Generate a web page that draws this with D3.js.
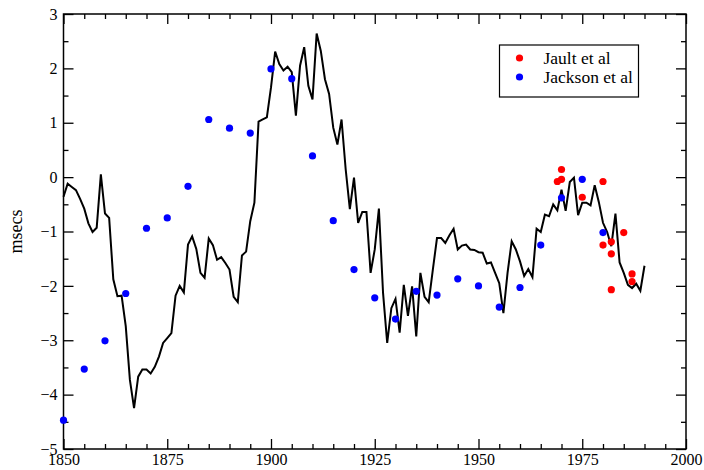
<!DOCTYPE html>
<html>
<head>
<meta charset="utf-8">
<script src="https://cdn.jsdelivr.net/npm/d3@7"></script>
<style>
  body { margin: 0; background: #fff; }
  text { font-family: "Liberation Serif", "DejaVu Serif", serif; }
</style>
</head>
<body>
<div id="chart-area"></div>
<script>
// length-of-day series, one value per year
let lodYears = [
  1850, 1851, 1852, 1853, 1854, 1855, 1856, 1857, 1858, 1859,
  1860, 1861, 1862, 1863, 1864, 1865, 1866, 1867, 1868, 1869,
  1870, 1871, 1872, 1873, 1874, 1875, 1876, 1877, 1878, 1879,
  1880, 1881, 1882, 1883, 1884, 1885, 1886, 1887, 1888, 1889,
  1890, 1891, 1892, 1893, 1894, 1895, 1896, 1897, 1898, 1899,
  1900, 1901, 1902, 1903, 1904, 1905, 1906, 1907, 1908, 1909,
  1910, 1911, 1912, 1913, 1914, 1915, 1916, 1917, 1918, 1919,
  1920, 1921, 1922, 1923, 1924, 1925, 1926, 1927, 1928, 1929,
  1930, 1931, 1932, 1933, 1934, 1935, 1936, 1937, 1938, 1939,
  1940, 1941, 1942, 1943, 1944, 1945, 1946, 1947, 1948, 1949,
  1950, 1951, 1952, 1953, 1954, 1955, 1956, 1957, 1958, 1959,
  1960, 1961, 1962, 1963, 1964, 1965, 1966, 1967, 1968, 1969,
  1970, 1971, 1972, 1973, 1974, 1975, 1976, 1977, 1978, 1979,
  1980, 1981, 1982, 1983, 1984, 1985, 1986, 1987, 1988, 1989,
  1990
];
let lodValues = [
  -0.36, -0.12, -0.18, -0.24, -0.40, -0.58, -0.85, -1.01, -0.93, 0.05,
  -0.67, -0.75, -1.88, -2.19, -2.18, -2.74, -3.73, -4.25, -3.67, -3.54,
  -3.54, -3.61, -3.49, -3.30, -3.05, -2.96, -2.87, -2.18, -2.00, -2.12,
  -1.24, -1.09, -1.32, -1.76, -1.85, -1.13, -1.25, -1.52, -1.47, -1.58,
  -1.70, -2.20, -2.30, -1.44, -1.37, -0.81, -0.47, 1.02, 1.06, 1.10,
  1.65, 2.31, 2.08, 1.96, 2.03, 1.93, 1.13, 2.05, 2.39, 1.68,
  1.43, 2.64, 2.32, 1.80, 1.53, 0.91, 0.60, 1.06, 0.14, -0.59,
  -0.01, -0.84, -0.64, -0.64, -1.76, -1.33, -0.58, -2.13, -3.05, -2.41,
  -2.24, -2.86, -1.98, -2.55, -2.01, -2.93, -1.76, -2.20, -2.30, -1.70,
  -1.12, -1.12, -1.21, -1.07, -0.95, -1.33, -1.26, -1.24, -1.33, -1.34,
  -1.38, -1.39, -1.59, -1.57, -1.76, -1.95, -2.50, -1.76, -1.18, -1.33,
  -1.55, -1.82, -1.69, -1.84, -0.95, -1.01, -0.69, -0.72, -0.50, -0.61,
  -0.23, -0.62, -0.09, -0.01, -0.70, -0.47, -0.47, -0.52, -0.15, -0.46,
  -0.84, -1.01, -1.27, -0.67, -1.57, -1.76, -1.98, -2.04, -1.96, -2.09,
  -1.63
];

let jacksonYears = [1850, 1855, 1860, 1865, 1870, 1875, 1880, 1885, 1890, 1895,
  1900, 1905, 1910, 1915, 1920, 1925, 1930, 1935, 1940, 1945,
  1950, 1955, 1960, 1965, 1970, 1975, 1980];
let jacksonValues = [-4.47, -3.53, -3.01, -2.14, -0.94, -0.75, -0.17, 1.06, 0.90, 0.81,
  1.99, 1.81, 0.39, -0.80, -1.70, -2.22, -2.61, -2.10, -2.17, -1.87,
  -2.00, -2.39, -2.03, -1.25, -0.38, -0.04, -1.02];

let jaultYears = [1969, 1970, 1970, 1975, 1980, 1980, 1982, 1982, 1982, 1985, 1987, 1987];
let jaultValues = [-0.08, -0.04, 0.14, -0.37, -0.08, -1.25, -1.19, -1.41, -2.07, -1.02, -1.78, -1.92];

let xMajor = [1850, 1875, 1900, 1925, 1950, 1975, 2000];
let yMajor = [-5, -4, -3, -2, -1, 0, 1, 2, 3];

let width = 704, height = 470;
let margin = {left: 63.5, right: 18, top: 14, bottom: 21};
let serif = "'Liberation Serif', 'DejaVu Serif', serif";

let svg = d3.select("#chart-area").append("svg").attr("width", width).attr("height", height);

let x = d3.scaleLinear().domain([1850, 2000]).range([margin.left, width - margin.right]);
let y = d3.scaleLinear().domain([-5, 3]).range([height - margin.bottom, margin.top]);

let xMinor = d3.range(1850, 2001, 5).filter(d => xMajor.indexOf(d) < 0);
let yMinor = d3.range(-5, 3.01, 0.5).filter(d => yMajor.indexOf(d) < 0);

function styleAxis(g) {
  g.attr("font-family", serif);
  g.select(".domain").remove();
  g.selectAll("line").attr("stroke", "#000").attr("stroke-width", 1.3);
  g.selectAll("text").attr("font-size", 16).attr("fill", "#000");
}

// bottom
svg.append("g").attr("transform", `translate(0,${y(-5)})`)
  .call(d3.axisBottom(x).tickValues(xMajor).tickFormat(d3.format("d")).tickSize(-10).tickPadding(5))
  .call(styleAxis);
svg.append("g").attr("transform", `translate(0,${y(-5)})`)
  .call(d3.axisBottom(x).tickValues(xMinor).tickFormat("").tickSize(-5))
  .call(styleAxis);
// top
svg.append("g").attr("transform", `translate(0,${y(3)})`)
  .call(d3.axisTop(x).tickValues(xMajor).tickFormat("").tickSize(-10))
  .call(styleAxis);
svg.append("g").attr("transform", `translate(0,${y(3)})`)
  .call(d3.axisTop(x).tickValues(xMinor).tickFormat("").tickSize(-5))
  .call(styleAxis);
// left
svg.append("g").attr("transform", `translate(${x(1850)},0)`)
  .call(d3.axisLeft(y).tickValues(yMajor).tickSize(-10).tickPadding(6))
  .call(styleAxis);
svg.append("g").attr("transform", `translate(${x(1850)},0)`)
  .call(d3.axisLeft(y).tickValues(yMinor).tickFormat("").tickSize(-5))
  .call(styleAxis);
// right
svg.append("g").attr("transform", `translate(${x(2000)},0)`)
  .call(d3.axisRight(y).tickValues(yMajor).tickFormat("").tickSize(-10))
  .call(styleAxis);
svg.append("g").attr("transform", `translate(${x(2000)},0)`)
  .call(d3.axisRight(y).tickValues(yMinor).tickFormat("").tickSize(-5))
  .call(styleAxis);

// frame
svg.append("rect")
  .attr("x", x(1850)).attr("y", y(3))
  .attr("width", x(2000) - x(1850)).attr("height", y(-5) - y(3))
  .attr("fill", "none").attr("stroke", "#000").attr("stroke-width", 1.5);

// y label
svg.append("text")
  .attr("transform", `translate(22,${(y(3) + y(-5)) / 2}) rotate(-90)`)
  .attr("text-anchor", "middle")
  .attr("font-family", serif)
  .attr("font-size", 18)
  .text("msecs");

// line
let line = d3.line().x((d, i) => x(lodYears[i])).y(d => y(d));
svg.append("path")
  .datum(lodValues)
  .attr("d", line)
  .attr("fill", "none")
  .attr("stroke", "#000")
  .attr("stroke-width", 2)
  .attr("stroke-linejoin", "miter");

// Jackson et al
svg.selectAll("circle.jackson").data(jacksonValues).enter()
  .append("circle")
    .attr("class", "jackson")
    .attr("cx", (d, i) => x(jacksonYears[i]))
    .attr("cy", d => y(d))
    .attr("r", 3.6)
    .attr("fill", "#0000ff");

// Jault et al
svg.selectAll("circle.jault").data(jaultValues).enter()
  .append("circle")
    .attr("class", "jault")
    .attr("cx", (d, i) => x(jaultYears[i]))
    .attr("cy", d => y(d))
    .attr("r", 3.6)
    .attr("fill", "#ff0000");

// legend
let legend = svg.append("g").attr("transform", "translate(499.5,45)");
legend.append("rect").attr("width", 139).attr("height", 52)
  .attr("fill", "#fff").attr("stroke", "#000").attr("stroke-width", 1.2);
let items = [{name: "Jault et al", color: "#ff0000"}, {name: "Jackson et al", color: "#0000ff"}];
items.forEach((it, i) => {
  legend.append("circle").attr("cx", 20).attr("cy", 13 + i * 19).attr("r", 3.6).attr("fill", it.color);
  legend.append("text").attr("x", 44).attr("y", 13 + i * 19).attr("dy", "0.35em")
    .attr("font-family", serif)
    .attr("font-size", 17.5).attr("fill", "#000").text(it.name);
});
</script>
</body>
</html>
